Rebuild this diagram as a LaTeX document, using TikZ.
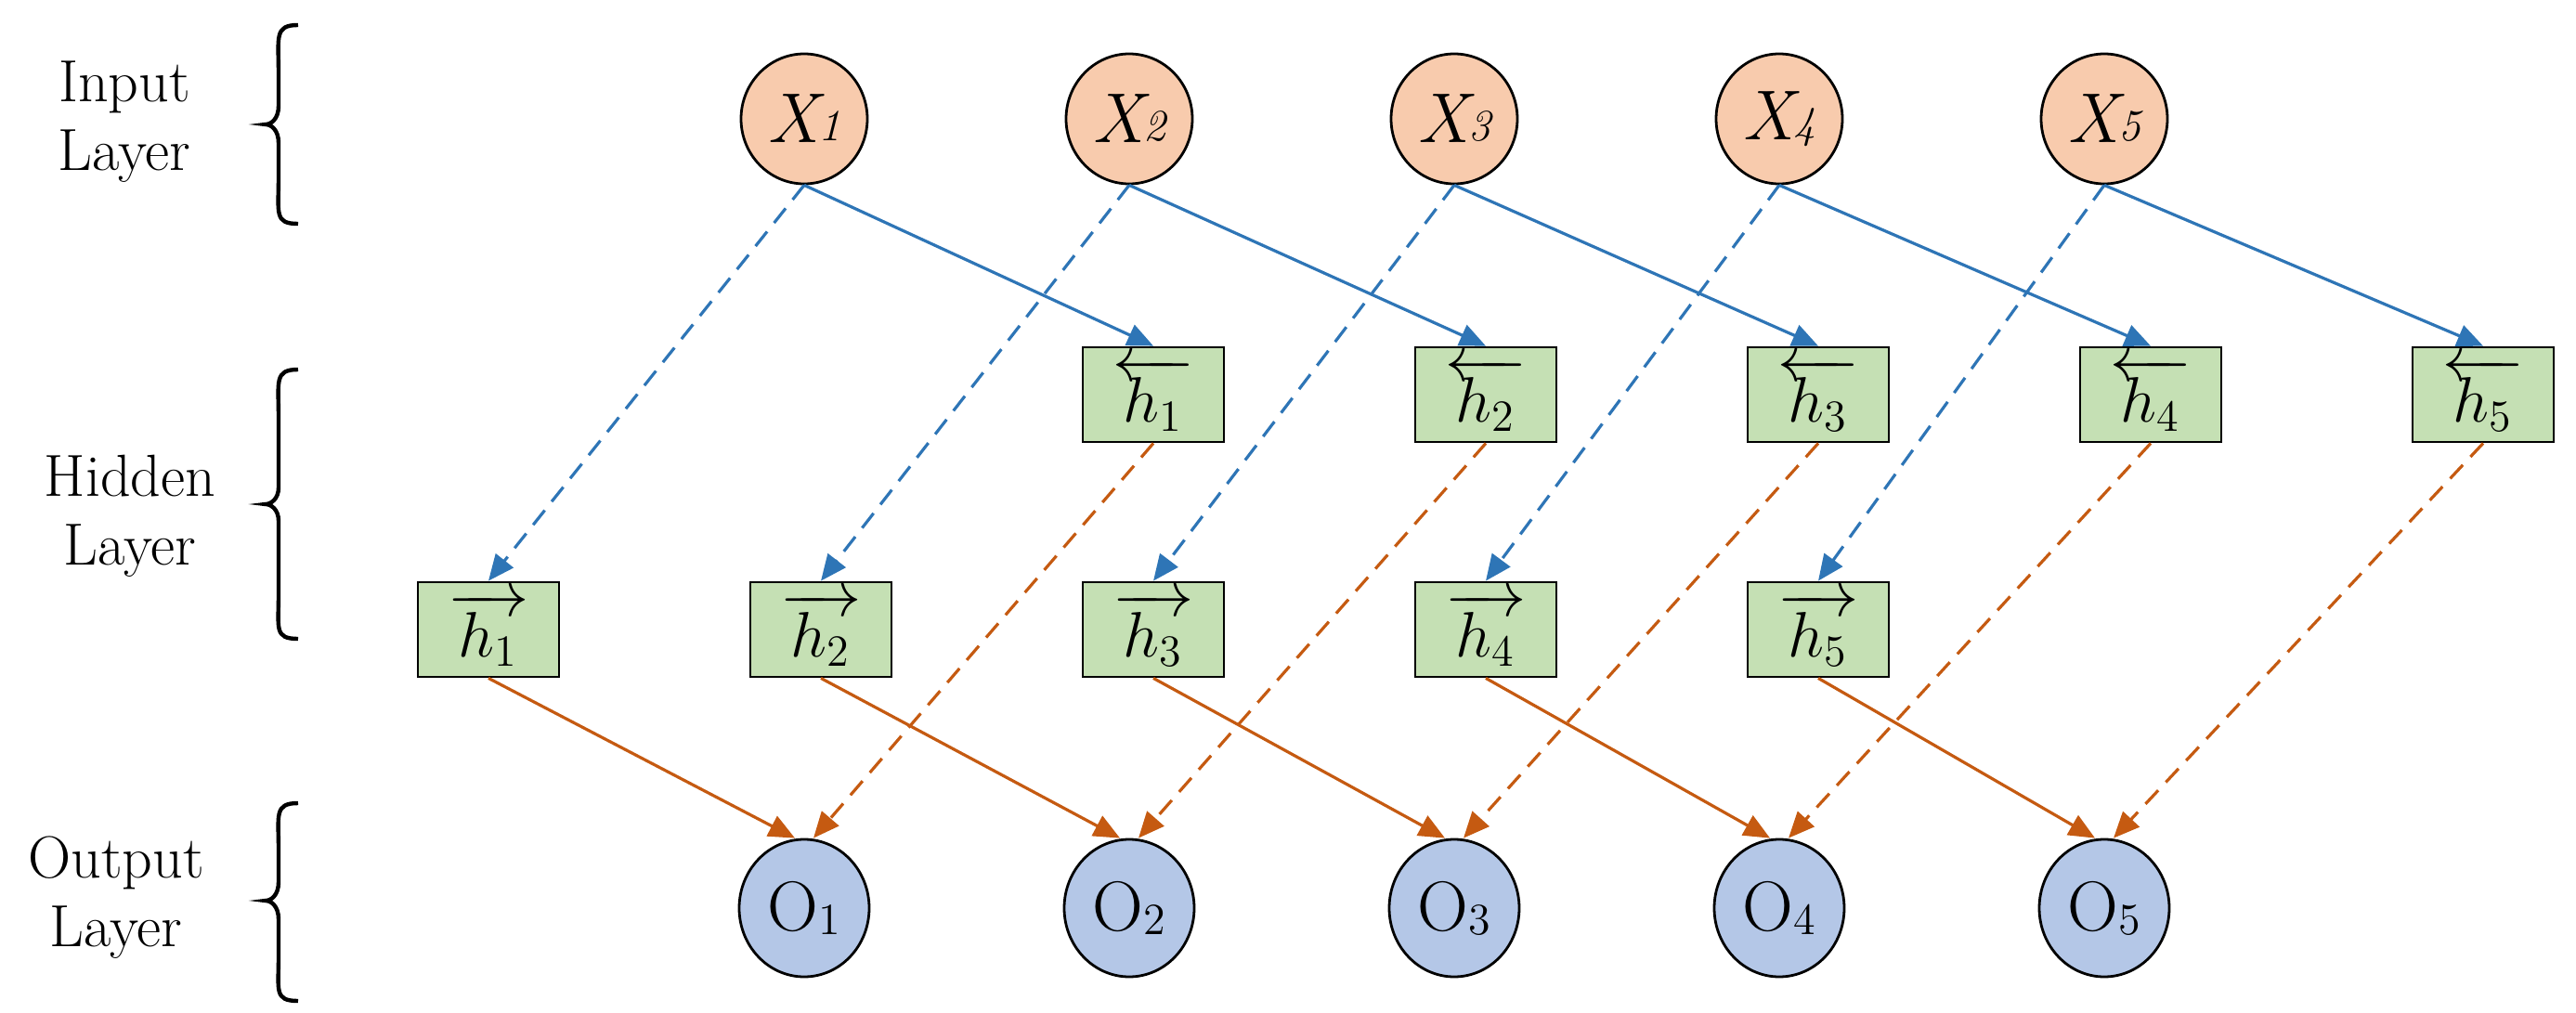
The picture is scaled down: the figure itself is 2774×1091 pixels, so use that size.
\documentclass[tikz,border=0pt]{standalone}
\usepackage{fontspec}
\usetikzlibrary{arrows.meta,shapes.geometric}
\definecolor{lblue}{RGB}{46,117,182}
\definecolor{lorange}{RGB}{197,90,17}
\definecolor{finp}{RGB}{248,203,173}
\definecolor{fhid}{RGB}{197,224,180}
\definecolor{fout}{RGB}{180,199,231}
\begin{document}
\begin{tikzpicture}[x=0.25pt,y=-0.25pt,
  inp/.style={ellipse,draw,line width=0.7pt,fill=finp,minimum width=34pt,minimum height=35pt,inner sep=0pt,font=\fontsize{19}{22}\selectfont},
  outn/.style={ellipse,draw,line width=0.7pt,fill=fout,minimum width=35pt,minimum height=37pt,inner sep=0pt,font=\fontsize{19}{22}\selectfont},
  hid/.style={rectangle,draw,line width=0.7pt,fill=fhid,minimum width=38pt,minimum height=25.5pt,inner sep=0pt,font=\fontsize{17.28}{20}\selectfont},
  lab/.style={align=center,font=\fontsize{16}{18.5}\selectfont},
  br/.style={line width=1.1pt},
  bs/.style={lblue,line width=0.8pt,-{Triangle[length=7pt,width=6pt]}},
  bd/.style={bs,dash pattern=on 5pt off 3pt},
  os/.style={lorange,line width=0.8pt,-{Triangle[length=7pt,width=6pt]}},
  od/.style={os,dash pattern=on 5pt off 3pt}]
\useasboundingbox (0,0) rectangle (2774,1091);
\node[lab] (li) at (134,131) {Input\\Layer};
\node[lab] (lh) at (140,556) {Hidden\\Layer};
\node[lab] (lo) at (125,967) {Output\\Layer};
\draw[br] (321,27) .. controls (295,27) and (300,40) .. (300,80) -- (300,114) .. controls (300,128) and (292,134) .. (286,134) .. controls (292,134) and (300,140) .. (300,154) -- (300,190) .. controls (300,230) and (295,241) .. (321,241);
\draw[br] (321,398) .. controls (295,398) and (300,411) .. (300,450) -- (300,525) .. controls (300,537) and (292,543) .. (286,543) .. controls (292,543) and (300,549) .. (300,561) -- (300,640) .. controls (300,677) and (295,688) .. (321,688);
\draw[br] (321,865) .. controls (295,865) and (300,878) .. (300,915) -- (300,950) .. controls (300,964) and (292,970) .. (286,970) .. controls (292,970) and (300,976) .. (300,990) -- (300,1030) .. controls (300,1067) and (295,1078) .. (321,1078);
\foreach \i in {1,...,5}{
  \pgfmathsetmacro{\xx}{866+350*(\i-1)}
  \pgfmathsetmacro{\fx}{526+358*(\i-1)}
  \pgfmathsetmacro{\bx}{1242+358*(\i-1)}
  \node[inp] (x\i) at (\xx,128) {\itshape X\raisebox{0.5pt}{\fontsize{12}{12}\selectfont \i}};
  \node[outn] (o\i) at (\xx,978) {O\raisebox{-1pt}{\fontsize{12}{12}\selectfont \i}};
  \node[hid] (f\i) at (\fx,678) {$\overrightarrow{\,h_{\i}\,}$};
  \node[hid] (b\i) at (\bx,425) {$\overleftarrow{\,h_{\i}\,}$};
  \draw[bs] (x\i.south) -- (b\i.north);
  \draw[bd] (x\i.south) -- (f\i.north);
  \draw[os] (f\i.south) -- ([xshift=-2.5pt]o\i.north);
  \draw[od] (b\i.south) -- ([xshift=2.5pt]o\i.north);
}
\end{tikzpicture}
\end{document}
